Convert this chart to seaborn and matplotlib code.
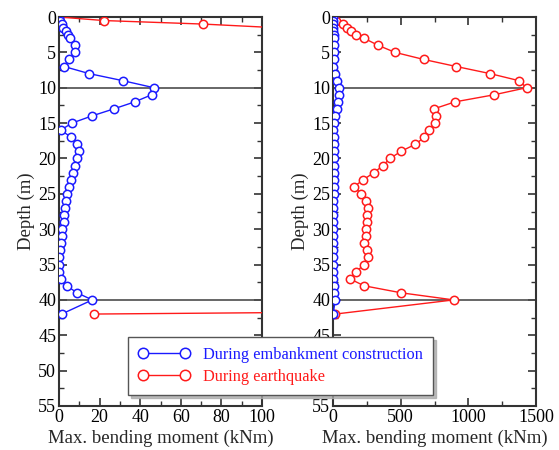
import numpy as np
import pandas as pd
import matplotlib
matplotlib.use("Agg")
import matplotlib.pyplot as plt
import seaborn as sns
from matplotlib.ticker import MultipleLocator
from matplotlib.lines import Line2D

depth = [0, 0.5, 1, 1.5, 2, 2.5, 3, 4, 5, 6, 7, 8, 9, 10, 11, 12, 13, 14, 15, 16,
         17, 18, 19, 20, 21, 22, 23, 24, 25, 26, 27, 28, 29, 30, 31, 32, 33, 34, 35,
         36, 37, 38, 39, 40, 42]
embankment = [0, 0.7, 1.3, 2.1, 3.3, 4.6, 5.6, 8.0, 8.0, 4.9, 2.5, 14.8, 31.4, 46.8,
              45.6, 37.3, 26.9, 16.1, 6.4, 0.8, 6.1, 9.0, 9.7, 9.0, 8.0, 6.9, 5.7, 4.8,
              3.9, 3.4, 3.0, 2.6, 2.3, 1.6, 1.3, 1.0, 0.5, 0.2, 0.0, 0.0, 1.0, 3.8, 8.9,
              16.4, 1.3]
earthquake = [0, 22, 71, 106, 133, 172, 229, 333, 458, 670, 911, 1160, 1374, 1430,
              1190, 901, 744, 758, 751, 712, 675, 608, 502, 421, 369, 303, 224, 155,
              209, 244, 261, 252, 249, 246, 241, 232, 251, 256, 232, 170, 123, 229,
              505, 892, 17]
series_labels = ["During embankment construction", "During earthquake"]
pile_lines = [10, 40]

BLUE = "#1a1aff"
RED = "#ff1a1a"

sns.set_style("ticks")
plt.rcParams["font.family"] = ["Liberation Serif", "DejaVu Serif"]

df = pd.DataFrame({"depth": depth, "emb": embankment, "eq": earthquake})

fig = plt.figure(figsize=(5.59, 4.5), dpi=100)
axL = fig.add_axes([59 / 559, 1 - 406 / 450, 203 / 559, 389 / 450])
axR = fig.add_axes([333 / 559, 1 - 406 / 450, 203 / 559, 389 / 450])

for ax, xmax, major, minor_b in [(axL, 100, 20, 10), (axR, 1500, 500, 250)]:
    for yl in pile_lines:
        ax.axhline(yl, color="#4d4d4d", lw=1.2, zorder=1)
    sns.lineplot(data=df, x="eq", y="depth", sort=False, estimator=None, ax=ax,
                 color=RED, lw=1.0, marker="o", ms=6, mfc="white", mec=RED, mew=1.1,
                 zorder=3)
    sns.lineplot(data=df, x="emb", y="depth", sort=False, estimator=None, ax=ax,
                 color=BLUE, lw=1.0, marker="o", ms=6, mfc="white", mec=BLUE, mew=1.1,
                 zorder=4)
    ax.set_xlim(0, xmax)
    ax.set_ylim(55, 0)
    ax.xaxis.set_major_locator(MultipleLocator(major))
    ax.xaxis.set_minor_locator(MultipleLocator(minor_b))
    ax.yaxis.set_major_locator(MultipleLocator(5))
    ax.yaxis.set_minor_locator(MultipleLocator(2.5))
    ax.tick_params(which="both", direction="in", top=True, right=True,
                   labelsize=13, colors="#333333", labelcolor="black", pad=2)
    ax.tick_params(which="major", length=6, width=1.2)
    ax.tick_params(which="minor", length=3.5, width=1.0)
    for s in ax.spines.values():
        s.set_color("#333333")
        s.set_linewidth(1.5)
    ax.set_xlabel("Max. bending moment (kNm)", fontsize=13.5, labelpad=3)
    ax.set_ylabel("Depth (m)", fontsize=13.5, labelpad=2)
    leg = ax.get_legend()
    if leg:
        leg.remove()

handles = [Line2D([], [], color=BLUE, lw=1.0, marker="o", ms=7.5, mfc="white", mec=BLUE, mew=1.1),
           Line2D([], [], color=RED, lw=1.0, marker="o", ms=7.5, mfc="white", mec=RED, mew=1.1)]
leg = fig.legend(handles, series_labels, loc="lower left",
                 bbox_to_anchor=(128 / 559, 1 - 395 / 450), numpoints=2,
                 handlelength=3.2, fontsize=11.8, frameon=True, fancybox=False,
                 shadow={"color": "#aaaaaa", "alpha": 0.8}, edgecolor="#555555",
                 borderpad=0.6, labelspacing=0.4, handletextpad=0.8, borderaxespad=0)
leg.get_frame().set_linewidth(1.0)
for t, c in zip(leg.get_texts(), [BLUE, RED]):
    t.set_color(c)

fig.savefig("out.png", dpi=100)
